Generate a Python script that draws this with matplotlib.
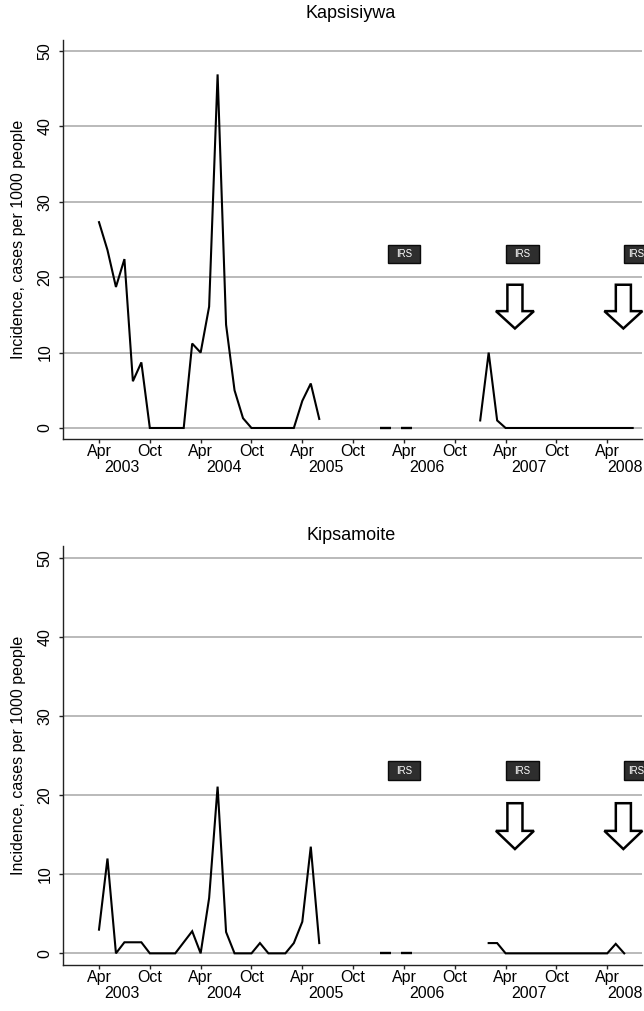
import numpy as np
import matplotlib
matplotlib.use("Agg")
import matplotlib.pyplot as plt
from matplotlib.patches import Polygon, Rectangle

plt.rcParams['font.family'] = ['Liberation Sans', 'DejaVu Sans']

nan = np.nan
# Monthly incidence from Apr 2003 (index 0) to Jul 2008 (index 63)
kapsisiywa = [27.3, 23.6, 18.7, 22.4, 6.2, 8.7, 0, 0, 0, 0, 0, 11.2, 10.0, 16.1, 46.9, 13.7,
              5.0, 1.3, 0, 0, 0, 0, 0, 0, 3.6, 5.9, 1.2] + [nan] * 18 + \
             [1.0, 10.0, 1.0] + [0] * 16
kipsamoite = [3.0, 12.0, 0, 1.4, 1.4, 1.4, 0, 0, 0, 0, 1.4, 2.8, 0, 7.0, 21.1, 2.7,
              0, 0, 0, 1.3, 0, 0, 0, 1.3, 4.0, 13.5, 1.3] + [nan] * 19 + \
             [1.3, 1.3] + [0] * 13 + [1.2, 0]
# short zero segments early 2006 (month offsets)
dash_months = [[33.2, 34.5], [35.6, 36.9]]
dash_values = [[0, 0], [0, 0]]

titles = ["Kapsisiywa", "Kipsamoite"]
series = [kapsisiywa, kipsamoite]

tick_months = list(range(0, 61, 6))
tick_labels = ["Apr", "Oct"] * 5 + ["Apr"]
year_months = [2.75, 14.75, 26.75, 38.75, 50.75, 62.1]
year_labels = ["2003", "2004", "2005", "2006", "2007", "2008"]

irs_months = [36, 50, 63.4]
irs_box_left = [34.1, 48.1, 62.0]
irs_level = 23.1
arrow_months = [49.1, 61.9]
arrow_tip, arrow_base, arrow_top = 13.2, 15.5, 19.0

W, H = 644, 1011
fig = plt.figure(figsize=(W / 100, H / 100), dpi=100)

# axes boxes in pixels: (left, top, right, bottom)
boxes = [(63, 39.7, 642, 439.3), (63, 546.4, 642, 965.2)]
title_y = [14, 535]

for ax_i, (box, title, vals) in enumerate(zip(boxes, titles, series)):
    l, t, r, b = box
    ax = fig.add_axes([l / W, 1 - b / H, (r - l) / W, (b - t) / H])
    ax.set_xlim(-4.25, 64.1)
    ax.set_ylim(-1.5, 51.5)
    for s in ['top', 'right']:
        ax.spines[s].set_visible(False)
    for s in ['left', 'bottom']:
        ax.spines[s].set_linewidth(1.0)
        ax.spines[s].set_color('#222222')
    ax.set_yticks([0, 10, 20, 30, 40, 50])
    ax.set_yticklabels(["0", "10", "20", "30", "40", "50"], rotation=90, va='center')
    ax.yaxis.grid(True, color='#b4b4b4', linewidth=1.3)
    ax.set_axisbelow(True)
    ax.set_xticks(tick_months)
    ax.set_xticklabels(tick_labels)
    ax.set_xticks(year_months, minor=True)
    ax.set_xticklabels(year_labels, minor=True)
    ax.tick_params(axis='both', which='major', labelsize=11.5, length=2.9, width=1.0,
                   color='#222222', pad=0.3)
    ax.tick_params(axis='y', which='major', pad=4.5)
    ax.tick_params(axis='x', which='minor', labelsize=11.5, length=0, pad=14.8)
    ax.set_ylabel("Incidence, cases per 1000 people", fontsize=11.5, labelpad=8.5)

    x = np.arange(len(vals))
    ax.plot(x, vals, color='black', linewidth=1.5, solid_joinstyle='miter')
    for dm, dv in zip(dash_months, dash_values):
        ax.plot(dm, dv, color='black', linewidth=1.7, solid_capstyle='butt')

    # IRS boxes
    bw, bh = 3.8, 2.4
    for m, bl in zip(irs_months, irs_box_left):
        ax.add_patch(Rectangle((bl, irs_level - bh / 2), bw, bh,
                               facecolor='#2e2e2e', edgecolor='#0a0a0a',
                               linewidth=1.0, clip_on=False, zorder=5))
        ax.text(m, irs_level, "IRS", color='white', fontsize=7,
                ha='center', va='center', clip_on=False, zorder=6)
    # arrows
    sw, hw = 0.89, 2.24
    for m in arrow_months:
        pts = [(m - sw, arrow_top), (m + sw, arrow_top), (m + sw, arrow_base),
               (m + hw, arrow_base), (m, arrow_tip), (m - hw, arrow_base),
               (m - sw, arrow_base)]
        ax.add_patch(Polygon(pts, closed=True, facecolor='white', edgecolor='black',
                             linewidth=1.8, joinstyle='miter', clip_on=False, zorder=5))

    fig.text(351 / W, 1 - title_y[ax_i] / H, title, fontsize=13, ha='center', va='center')

fig.savefig("out.png", dpi=100, facecolor='white')
